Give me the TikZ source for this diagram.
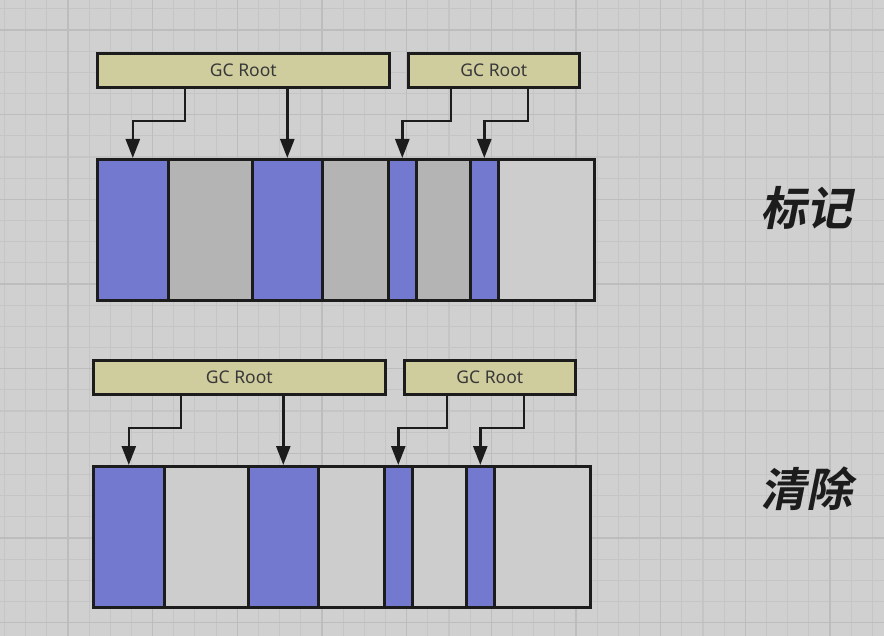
\documentclass[tikz,border=0pt]{standalone}
\usepackage{fontspec}
\setmainfont{Noto Sans}
\newfontfamily\cjk[FakeSlant=0.2]{Noto Sans CJK SC Bold}
\usetikzlibrary{arrows.meta,calc}
\definecolor{bg}{RGB}{208,208,208}
\definecolor{gridc}{RGB}{197,197,197}
\definecolor{gridm}{RGB}{189,189,189}
\definecolor{mblue}{RGB}{116,121,208}
\definecolor{mdark}{RGB}{180,180,180}
\definecolor{mlight}{RGB}{205,205,205}
\definecolor{gcfill}{RGB}{207,205,158}
\definecolor{ink}{RGB}{28,28,28}
\tikzset{
  seg/.style={draw=ink,line width=2.6pt,inner sep=0pt,anchor=north west,minimum height=141pt},
  gcbox/.style={draw=ink,line width=2.6pt,fill=gcfill,inner sep=0pt,anchor=north west,minimum height=34pt,font=\fontsize{17.5}{20}\selectfont,text=black!78},
  arr/.style={draw=ink,line width=2.6pt,-{Triangle[width=14pt,length=19pt]}},
  lab/.style={font=\cjk\fontsize{46}{52}\selectfont,text=ink}
}
\newcommand\drawmem[2]{%
  \node[seg,fill=mblue,minimum width=71pt] (#1a) at (96,158) {};
  \node[seg,fill=#2,minimum width=84pt] (#1b) at (167,158) {};
  \node[seg,fill=mblue,minimum width=70pt] (#1c) at (251,158) {};
  \node[seg,fill=#2,minimum width=66pt] (#1d) at (321,158) {};
  \node[seg,fill=mblue,minimum width=28pt] (#1e) at (387,158) {};
  \node[seg,fill=#2,minimum width=54pt] (#1f) at (415,158) {};
  \node[seg,fill=mblue,minimum width=28pt] (#1g) at (469,158) {};
  \node[seg,fill=mlight,minimum width=96pt] (#1h) at (497,158) {};
  \node[gcbox,minimum width=292pt] (#1r) at (96,52) {GC Root};
  \node[gcbox,minimum width=171pt] (#1s) at (407,52) {GC Root};
  \draw[arr] ($(#1r.south west)+(89,0)$) |- ($(#1a.north)+(0,-37)$) -- (#1a.north);
  \draw[arr] (#1r.south -| #1c.north) -- (#1c.north);
  \draw[arr] ($(#1s.south west)+(44,0)$) |- ($(#1e.north)+(0,-37)$) -- (#1e.north);
  \draw[arr] ($(#1s.south west)+(121,0)$) |- ($(#1g.north)+(0,-37)$) -- (#1g.north);
}
\begin{document}
\begin{tikzpicture}[x=1pt,y=-1pt]
\useasboundingbox (0,0) rectangle (884,636);
\fill[bg] (0,0) rectangle (884,636);
\foreach \k in {0,...,41} \draw[gridc,line width=1.1pt] ({4.4+21.17*\k},0) -- ({4.4+21.17*\k},636);
\foreach \k in {0,...,29} \draw[gridc,line width=1.1pt] (0,{8.8+21.17*\k}) -- (884,{8.8+21.17*\k});
\foreach \k in {3,7,...,39} \draw[gridm,line width=1.3pt] ({4.4+21.17*\k},0) -- ({4.4+21.17*\k},636);
\foreach \k in {1,5,...,29} \draw[gridm,line width=1.3pt] (0,{8.8+21.17*\k}) -- (884,{8.8+21.17*\k});
\drawmem{t}{mdark}
\begin{scope}[shift={(-4,307)}]
\drawmem{u}{mlight}
\end{scope}
\node[lab] (m1) at (806,208) {标记};
\node[lab] (m2) at (806,489) {清除};
\end{tikzpicture}
\end{document}
